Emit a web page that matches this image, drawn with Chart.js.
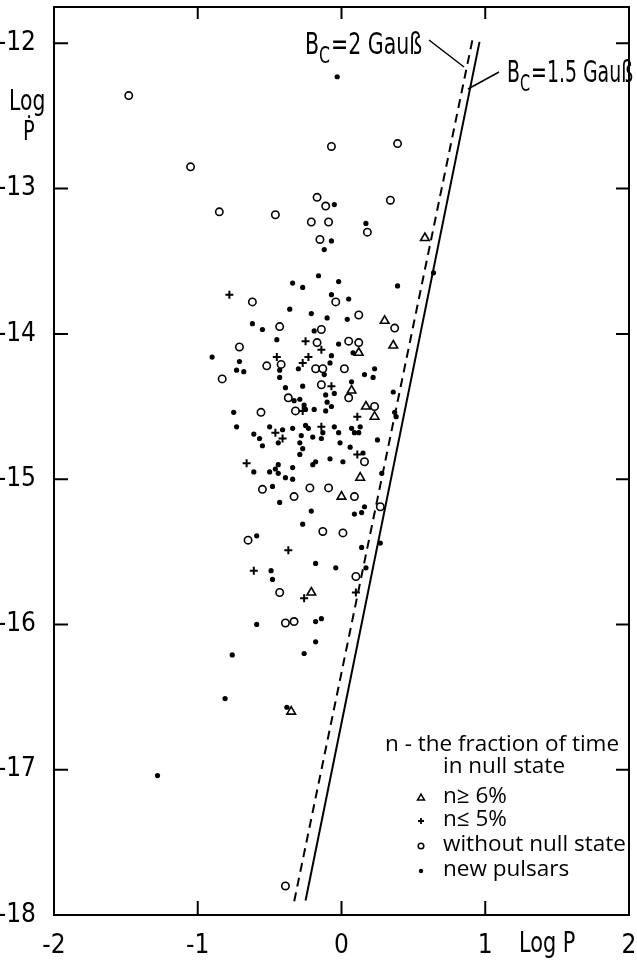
<!DOCTYPE html>
<html>
<head>
<meta charset="utf-8">
<script src="https://cdn.jsdelivr.net/npm/chart.js@4/dist/chart.umd.min.js"></script>
<style>
  html, body { margin: 0; padding: 0; background: #fff; }
  #wrap { width: 637px; height: 960px; position: relative; }
</style>
</head>
<body>
<div id="wrap"><canvas id="grafico"></canvas></div>
<script>
// axis ticks
const xTicks = [-2, -1, 0, 1, 2];
const yTicks = [-18, -17, -16, -15, -14, -13, -12];

// n >= 6%  (triangles)
const triX = [0.58, 0.30, 0.36, 0.12, 0.07, 0.17, 0.23, 0.13, 0.00, -0.21, -0.35];
const triY = [-13.34, -13.91, -14.08, -14.13, -14.39, -14.50, -14.57, -14.99, -15.12, -15.78, -16.60];

// n <= 5%  (crosses)
const plusX = [-0.78, -0.25, -0.14, -0.45, -0.23, -0.27, -0.07, -0.27, 0.11, -0.46, -0.41, -0.14, -0.66, 0.11, -0.37, -0.61, 0.10, -0.26];
const plusY = [-13.73, -14.05, -14.11, -14.16, -14.16, -14.20, -14.36, -14.53, -14.57, -14.68, -14.72, -14.64, -14.89, -14.83, -15.49, -15.63, -15.78, -15.82];

// without null state (open circles)
const openX = [-1.48, -1.05, -0.07, 0.39, -0.85, -0.46, -0.17, -0.11, -0.21, -0.09,
  0.18, 0.34, -0.15, -0.62, -0.04, 0.12, 0.37, -0.43, -0.14, -0.17,
  0.05, 0.12, -0.71, -0.52, -0.42, -0.18, -0.13, 0.02, -0.83, -0.14,
  0.05, -0.37, -0.32, 0.23, -0.56, 0.16, -0.55, -0.33, -0.22, -0.09,
  0.09, 0.27, -0.13, 0.01, -0.65, 0.10, -0.43, -0.39, -0.33, -0.39];
const openY = [-12.36, -12.85, -12.71, -12.69, -13.16, -13.18, -13.06, -13.12, -13.23, -13.23,
  -13.30, -13.08, -13.35, -13.78, -13.78, -13.87, -13.96, -13.95, -13.97, -14.06,
  -14.05, -14.06, -14.09, -14.22, -14.21, -14.24, -14.24, -14.24, -14.31, -14.35,
  -14.44, -14.44, -14.53, -14.50, -14.54, -14.88, -15.07, -15.12, -15.06, -15.06,
  -15.12, -15.19, -15.36, -15.37, -15.42, -15.67, -15.78, -15.99, -15.98, -17.80];

// new pulsars (dots)
const dotsX = [-0.03, -0.05, 0.17, -0.07, -0.12, 0.64, -0.16, -0.34, -0.27, -0.02,
  0.39, -0.07, 0.05, -0.36, -0.21, -0.10, 0.04, -0.62, -0.55, -0.19,
  -0.45, -0.02, 0.08, -0.90, -0.07, -0.71, -0.73, -0.68, -0.43, -0.30,
  -0.12, -0.08, -0.43, 0.16, 0.22, 0.23, -0.39, -0.27, 0.07, -0.11,
  -0.05, 0.36, -0.33, -0.29, -0.26, -0.25, -0.19, -0.10, -0.07, -0.11,
  0.37, 0.38, -0.75, -0.73, -0.50, -0.41, -0.34, -0.25, -0.23, -0.13,
  -0.05, -0.02, 0.07, 0.09, 0.13, 0.12, -0.61, -0.57, -0.55, -0.44,
  -0.28, -0.29, -0.20, -0.14, -0.01, 0.06, 0.25, -0.27, -0.29, -0.08,
  0.01, 0.15, -0.18, -0.20, 0.28, -0.61, -0.50, -0.44, -0.46, -0.44,
  -0.34, -0.39, -0.34, -0.48, -0.43, -0.21, 0.09, 0.14, 0.16, -0.27,
  -0.59, 0.14, 0.27, -0.18, -0.04, 0.17, -0.49, -0.48, -0.59, -0.18,
  -0.14, -0.18, -0.76, -0.26, -0.81, -0.38, -1.28];
const dotsY = [-12.23, -13.11, -13.24, -13.36, -13.42, -13.58, -13.60, -13.65, -13.68, -13.64,
  -13.67, -13.73, -13.76, -13.83, -13.86, -13.89, -13.90, -13.93, -13.97, -13.98,
  -14.04, -14.07, -14.13, -14.16, -14.15, -14.19, -14.25, -14.26, -14.25, -14.24,
  -14.28, -14.20, -14.30, -14.28, -14.30, -14.24, -14.37, -14.36, -14.33, -14.42,
  -14.41, -14.40, -14.46, -14.45, -14.49, -14.52, -14.52, -14.47, -14.50, -14.53,
  -14.54, -14.57, -14.54, -14.64, -14.64, -14.66, -14.65, -14.63, -14.65, -14.68,
  -14.64, -14.68, -14.65, -14.68, -14.64, -14.68, -14.69, -14.72, -14.77, -14.75,
  -14.70, -14.75, -14.71, -14.72, -14.75, -14.78, -14.73, -14.79, -14.83, -14.86,
  -14.88, -14.82, -14.88, -14.90, -14.96, -14.95, -14.95, -14.90, -14.93, -14.96,
  -14.92, -14.99, -15.00, -15.05, -15.16, -15.22, -15.24, -15.23, -15.19, -15.31,
  -15.39, -15.47, -15.44, -15.58, -15.61, -15.61, -15.63, -15.69, -16.00, -15.98,
  -15.96, -16.12, -16.21, -16.20, -16.51, -16.57, -17.04];

// death lines, B_c = 1.5 and 2 Gauss
const line15X = [0.96, -0.25];
const line15Y = [-11.99, -17.90];
const line2X = [0.91, -0.33];
const line2Y = [-11.98, -17.91];

const narrow = "'DejaVu Sans Condensed', 'DejaVu Sans', sans-serif";
const roundFont = "'Open Sans', 'DejaVu Sans', sans-serif";

function pares(xs, ys) {
    return xs.map((x, i) => ({ x: x, y: ys[i] }));
}

// squeezed text, the original lettering is very narrow
function textoEstreito(ctx, txt, x, y, size, esc) {
    ctx.save();
    ctx.translate(x, y);
    ctx.scale(esc, 1);
    ctx.font = size + 'px ' + narrow;
    ctx.fillText(txt, 0, 0);
    const w = ctx.measureText(txt).width * esc;
    ctx.restore();
    return w;
}

// frame, inward ticks, labels and legend
const extras = {
    id: 'extras',
    afterDraw(chart) {
        const ctx = chart.ctx;
        const a = chart.chartArea;
        const sx = chart.scales.x, sy = chart.scales.y;
        ctx.save();
        ctx.strokeStyle = '#000';
        ctx.fillStyle = '#000';
        ctx.lineWidth = 2;
        ctx.strokeRect(a.left, a.top, a.right - a.left, a.bottom - a.top);

        ctx.beginPath();
        [-1, 0, 1].forEach(v => {
            const px = sx.getPixelForValue(v);
            ctx.moveTo(px, a.bottom); ctx.lineTo(px, a.bottom - 14);
            ctx.moveTo(px, a.top); ctx.lineTo(px, a.top + 12);
        });
        [-17, -16, -15, -14, -13, -12].forEach(v => {
            const py = sy.getPixelForValue(v);
            ctx.moveTo(a.left, py); ctx.lineTo(a.left + 14, py);
            ctx.moveTo(a.right, py); ctx.lineTo(a.right - 13, py);
        });
        ctx.stroke();

        // axis titles
        ctx.textBaseline = 'alphabetic';
        ctx.textAlign = 'left';
        textoEstreito(ctx, 'Log', 9, 110, 29, 0.78);
        textoEstreito(ctx, '\u1E56', 23, 140, 27, 0.8);
        textoEstreito(ctx, 'Log P', 519, 952, 29, 0.8);

        // line labels
        function bc(txt, x, y, esc) {
            let w = textoEstreito(ctx, 'B', x, y, 30, esc);
            w += textoEstreito(ctx, 'C', x + w, y + 9, 23, esc) + 1;
            textoEstreito(ctx, txt, x + w, y, 30, esc);
        }
        bc('=2 Gau\u00DF', 305, 54, 0.76);
        bc('=1.5 Gau\u00DF', 507, 82, 0.7);
        ctx.lineWidth = 1.5;
        ctx.beginPath();
        ctx.moveTo(429, 40); ctx.lineTo(464, 67);
        ctx.moveTo(499, 72); ctx.lineTo(468, 89);
        ctx.stroke();

        // legend
        ctx.font = '22.5px ' + roundFont;
        ctx.textBaseline = 'middle';
        ctx.fillText('n - the fraction of time', 385, 745);
        ctx.fillText('in null state', 443, 767);
        const rows = [
            ['n\u2265 6%', 797, { pointStyle: 'triangle', radius: 4, borderWidth: 1.5 }, '#fff'],
            ['n\u2264 5%', 820, { pointStyle: 'cross', radius: 3, borderWidth: 1.8 }, '#000'],
            ['without null state', 845, { pointStyle: 'circle', radius: 2.8, borderWidth: 1.5 }, '#fff'],
            ['new pulsars', 870, { pointStyle: 'circle', radius: 2.2, borderWidth: 0 }, '#000']
        ];
        rows.forEach(r => {
            ctx.fillStyle = '#000';
            ctx.fillText(r[0], 443, r[1]);
            ctx.fillStyle = r[3];
            ctx.strokeStyle = '#000';
            ctx.lineWidth = r[2].borderWidth;
            Chart.helpers.drawPoint(ctx, r[2], 421, r[1] + 1);
        });
        ctx.restore();
    }
};

new Chart(document.getElementById('grafico'), {
    type: 'scatter',
    data: {
        datasets: [
            {
                label: 'B_c = 1.5 Gauss',
                type: 'line',
                data: pares(line15X, line15Y),
                borderColor: '#000',
                borderWidth: 2,
                pointRadius: 0,
                fill: false
            },
            {
                label: 'B_c = 2 Gauss',
                type: 'line',
                data: pares(line2X, line2Y),
                borderColor: '#000',
                borderWidth: 2,
                borderDash: [9, 6],
                pointRadius: 0,
                fill: false
            },
            {
                label: 'n ≥ 6%',
                data: pares(triX, triY),
                pointStyle: 'triangle',
                pointRadius: 5,
                borderWidth: 1.6,
                borderColor: '#000',
                backgroundColor: '#fff'
            },
            {
                label: 'n ≤ 5%',
                data: pares(plusX, plusY),
                pointStyle: 'cross',
                pointRadius: 4,
                borderWidth: 2,
                borderColor: '#000',
                backgroundColor: '#000'
            },
            {
                label: 'without null state',
                data: pares(openX, openY),
                pointStyle: 'circle',
                pointRadius: 3.7,
                borderWidth: 1.6,
                borderColor: '#000',
                backgroundColor: '#fff'
            },
            {
                label: 'new pulsars',
                data: pares(dotsX, dotsY),
                pointStyle: 'circle',
                pointRadius: 2.6,
                borderWidth: 0,
                backgroundColor: '#000'
            }
        ]
    },
    options: {
        responsive: true,
        maintainAspectRatio: false,
        animation: false,
        layout: { padding: { top: 7, right: 8, left: 0, bottom: 0 } },
        plugins: {
            legend: { display: false },
            tooltip: { enabled: false }
        },
        scales: {
            x: {
                type: 'linear',
                min: -2,
                max: 2,
                afterFit: s => { s.height = 45; s.paddingLeft = 0; s.paddingRight = 0; },
                afterBuildTicks: s => { s.ticks = xTicks.map(v => ({ value: v })); },
                grid: { display: false },
                border: { display: false },
                ticks: {
                    color: '#000',
                    padding: 8,
                    font: { family: narrow, size: 26 }
                }
            },
            y: {
                type: 'linear',
                min: -18,
                max: -11.75,
                afterFit: s => { s.width = 54; s.paddingTop = 0; s.paddingBottom = 0; },
                afterBuildTicks: s => { s.ticks = yTicks.map(v => ({ value: v })); },
                grid: { display: false },
                border: { display: false },
                ticks: {
                    color: '#000',
                    padding: 10,
                    font: { family: narrow, size: 26 }
                }
            }
        }
    },
    plugins: [extras]
});
</script>
</body>
</html>
